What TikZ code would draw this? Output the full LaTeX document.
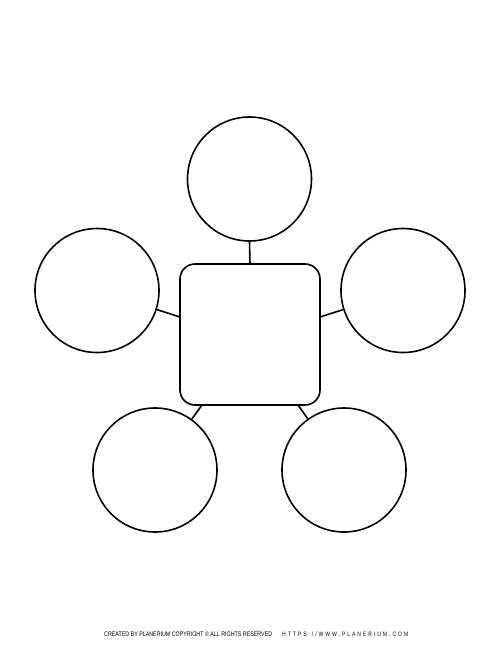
\documentclass[tikz,border=0pt]{standalone}
\usepackage{fontspec}
\setmainfont{Liberation Sans}
\newfontfamily\spacedfont[LetterSpace=40]{Liberation Sans}
\newfontfamily\plainfont{Liberation Sans}
\begin{document}
\begin{tikzpicture}[x=1pt,y=-1pt,
  bubble/.style={circle,draw=black,line width=1.6pt,minimum size=124pt,inner sep=0pt},
  centerbox/.style={rectangle,rounded corners=15pt,draw=black,line width=1.6pt,minimum width=140pt,minimum height=141pt,inner sep=0pt},
  link/.style={draw=black,line width=1.6pt},
  foot/.style={inner sep=0pt,anchor=base west}]
\useasboundingbox (0,0) rectangle (500,650);
\fill[white] (0,0) rectangle (500,650);
\node[centerbox] (box) at (250,334.5) {};
\node[bubble] (top) at (249.5,179) {};
\node[bubble] (left) at (97,290.5) {};
\node[bubble] (right) at (403,290.5) {};
\node[bubble] (bl) at (155,470) {};
\node[bubble] (br) at (344,470) {};
\coordinate (bt) at (250,264);
\coordinate (bL) at (180,317);
\coordinate (bR) at (320,317);
\coordinate (bBL) at (202,405);
\coordinate (bBR) at (298,405);
\draw[link] (top.south) -- (bt);
\draw[link] (left) -- (bL);
\draw[link] (right) -- (bR);
\draw[link] (bl) -- (bBL);
\draw[link] (br) -- (bBR);
\node[foot] (credit) at (104,636) {\resizebox{168pt}{4.6pt}{\plainfont CREATED BY PLANERIUM COPYRIGHT \textcopyright\ ALL RIGHTS RESERVED}};
\node[foot] (url) at (282,636) {\resizebox{126pt}{4.6pt}{\spacedfont HTTPS://WWW.PLANERIUM.COM}};
\end{tikzpicture}
\end{document}
